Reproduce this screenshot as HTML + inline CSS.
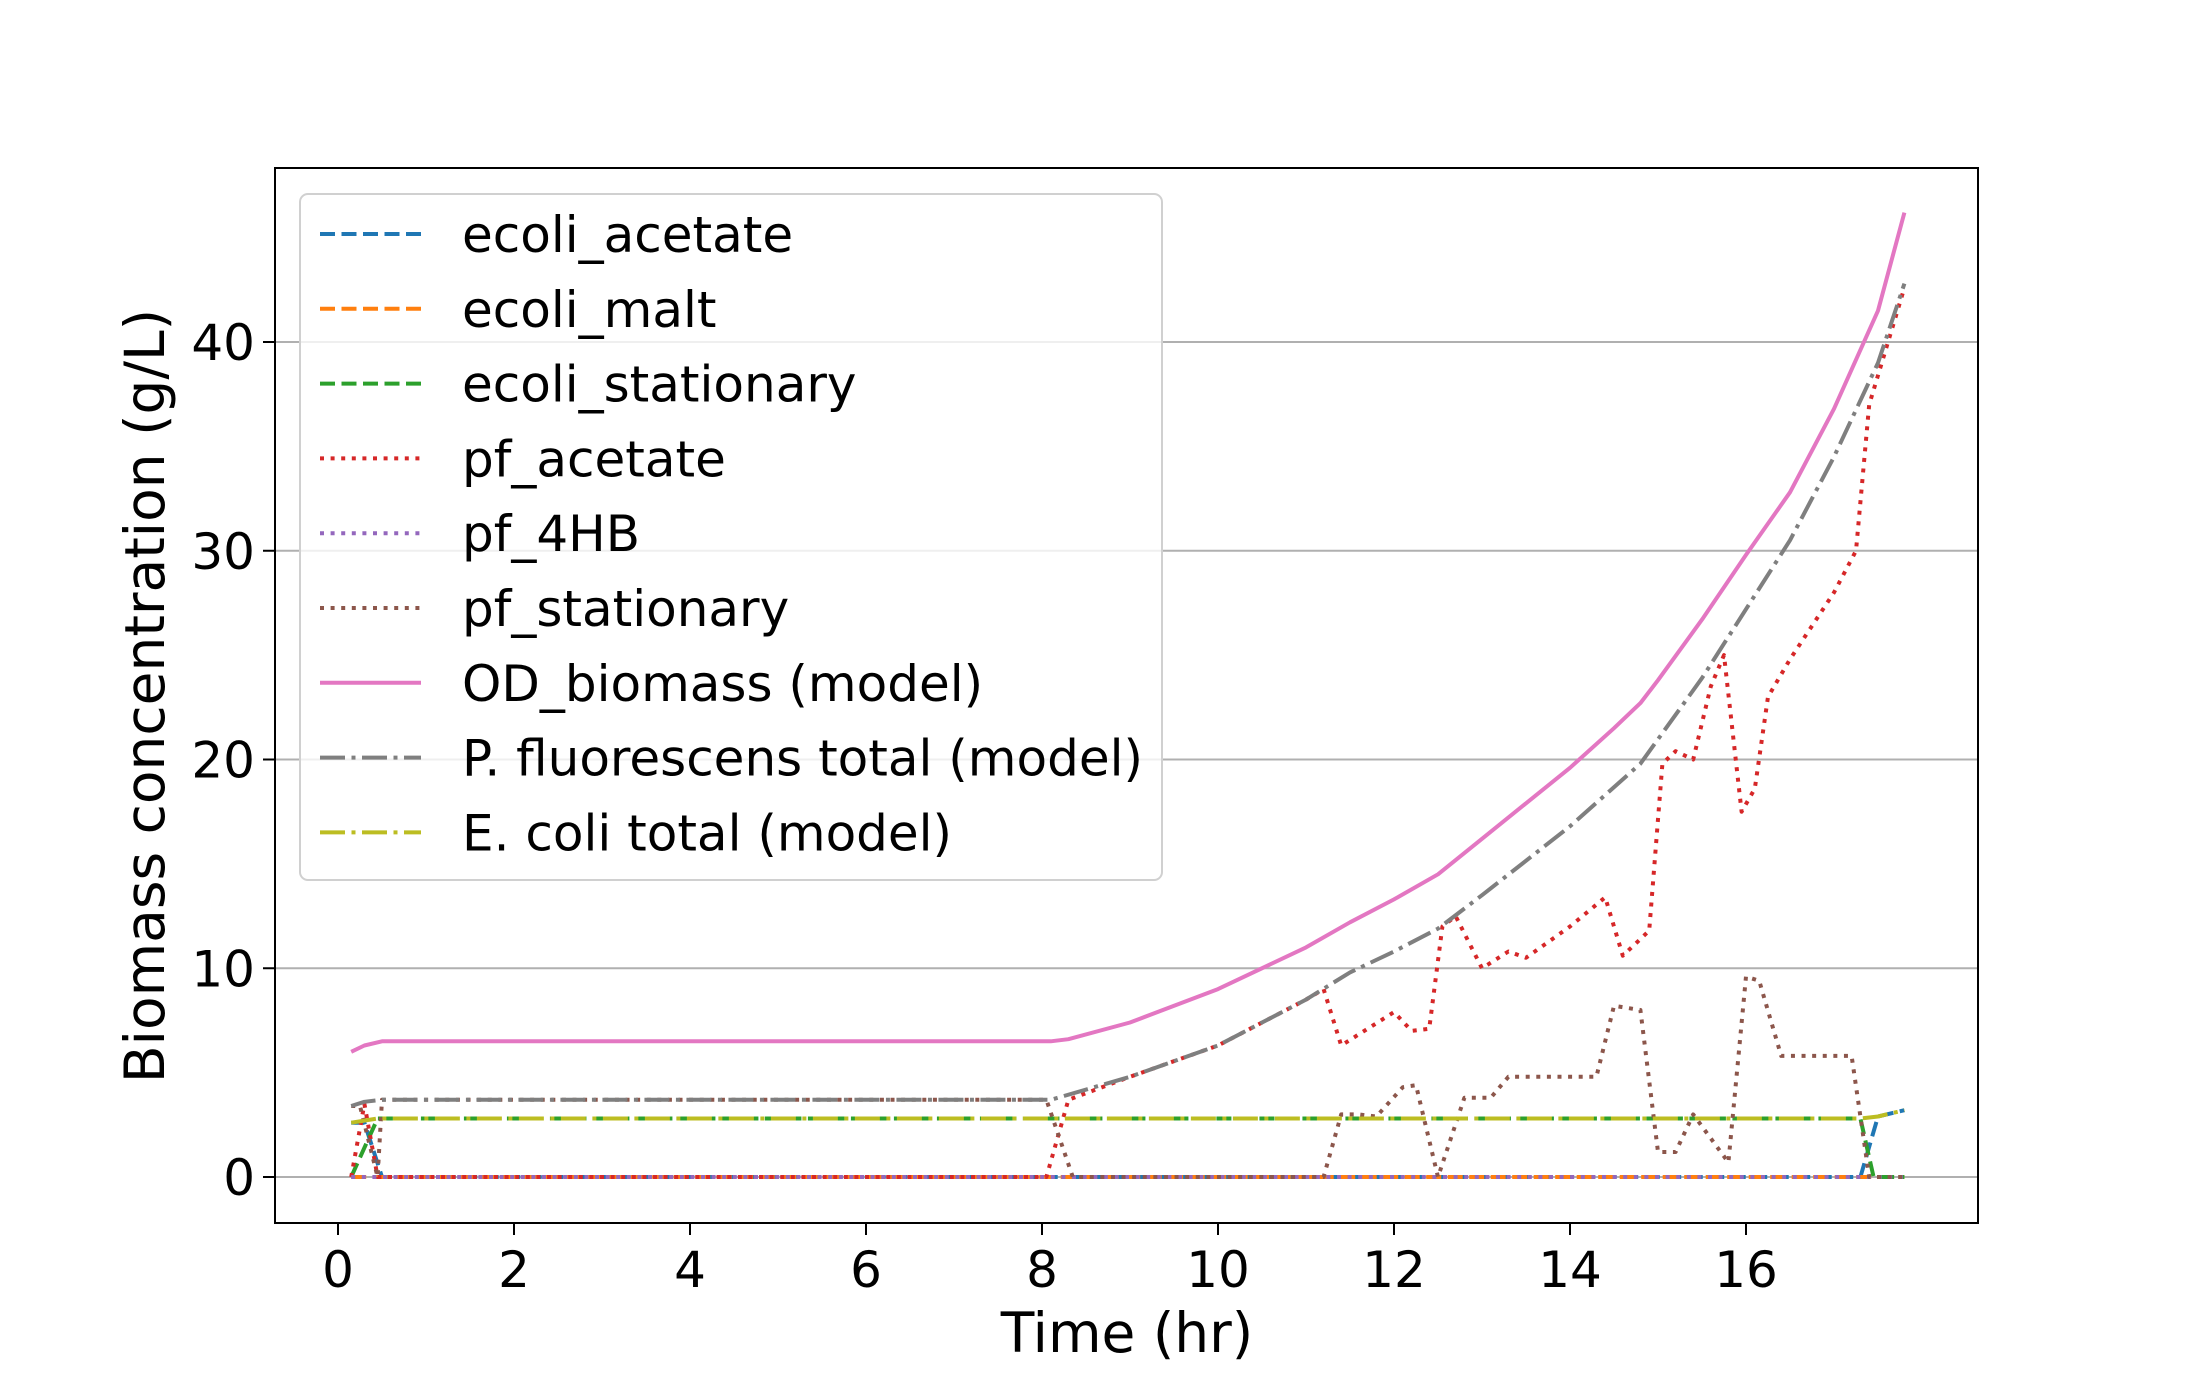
<!DOCTYPE html>
<html><head><meta charset="utf-8"><style>
html,body{margin:0;padding:0;background:#fff;}
svg{display:block;font-family:"DejaVu Sans","Liberation Sans",sans-serif;}
</style></head><body>
<svg id="chart" width="2200" height="1400" viewBox="0 0 2200 1400"></svg>
<script>
const tEcoliAcetate=[0.15,0.3,0.5,17.3,17.5,17.8];
const vEcoliAcetate=[2.6,2.6,0,0,2.9,3.2];
const tEcoliMalt=[0.15,17.8];
const vEcoliMalt=[0,0];
const tEcoliStat=[0.15,0.45,17.3,17.45,17.8];
const vEcoliStat=[0,2.8,2.8,0,0];
const tPfAcetate=[0.15,0.3,0.45,8.05,8.3,9,10,11,11.2,11.4,11.7,12.0,12.2,12.4,12.55,12.7,13.0,13.3,13.5,14.0,14.4,14.6,14.9,15.05,15.2,15.4,15.6,15.75,15.95,16.1,16.25,16.5,17.0,17.25,17.4,17.8];
const vPfAcetate=[0,3.5,0,0,3.7,4.8,6.3,8.5,9.0,6.3,7.1,7.9,7.0,7.1,12.0,12.5,10.0,10.8,10.5,12.0,13.4,10.6,11.8,19.8,20.4,20.0,23.5,25.0,17.5,18.6,23.0,24.8,28.0,30.0,37.0,42.6];
const tPf4HB=[0.15,17.8];
const vPf4HB=[0,0];
const tPfStat=[0.15,0.25,0.45,0.5,8.05,8.35,11.2,11.4,11.6,11.8,12.1,12.25,12.5,12.8,13.1,13.3,14.3,14.5,14.8,15.0,15.2,15.4,15.8,16.0,16.15,16.4,17.2,17.4,17.8];
const vPfStat=[3.4,3.4,0,3.7,3.7,0,0,3.0,3.0,2.9,4.3,4.4,0,3.8,3.8,4.8,4.8,8.2,8.0,1.2,1.2,3.0,0.7,9.6,9.4,5.8,5.8,0,0];
const tOD=[0.15,0.3,0.5,8.1,8.3,9,10,11,11.5,12,12.5,13,14,14.5,14.8,15,15.5,16,16.5,17,17.5,17.8];
const vOD=[6.0,6.3,6.5,6.5,6.6,7.4,9.0,11.0,12.2,13.3,14.5,16.2,19.6,21.5,22.7,23.8,26.7,29.8,32.8,36.8,41.5,46.2];
const tPfTot=[0.15,0.3,0.5,8.1,9,10,11,11.5,12,12.5,13,14,14.8,15.5,16,16.5,17,17.5,17.8];
const vPfTot=[3.4,3.6,3.7,3.7,4.8,6.3,8.5,9.8,10.8,11.9,13.5,16.8,19.8,23.9,27.2,30.5,34.5,39.0,42.8];
const tEcTot=[0.15,0.45,17.3,17.5,17.8];
const vEcTot=[2.6,2.8,2.8,2.9,3.2];
const xTicks=[0,2,4,6,8,10,12,14,16];
const yTicks=[0,10,20,30,40];

const NS="http://www.w3.org/2000/svg";
const svg=document.getElementById('chart');
const L=275,R=1978,T=168,B=1223;
function xs(t){return 338+t*88;}
function ys(v){return 1177-v*20.875;}
function mk(tag,attrs,parent){const e=document.createElementNS(NS,tag);for(const k in attrs)e.setAttribute(k,attrs[k]);(parent||svg).appendChild(e);return e;}

yTicks.forEach(v=>{
  const g=mk('line',{x1:L,x2:R,y1:ys(v),y2:ys(v),stroke:'#b0b0b0','stroke-width':2});
  
  
});

const series=[
 {n:'ecoli-acetate',t:tEcoliAcetate,v:vEcoliAcetate,c:'#1f77b4',d:'15,6.5'},
 {n:'ecoli-malt',t:tEcoliMalt,v:vEcoliMalt,c:'#ff7f0e',d:'15,6.5'},
 {n:'ecoli-stationary',t:tEcoliStat,v:vEcoliStat,c:'#2ca02c',d:'15,6.5'},
 {n:'pf-acetate',t:tPfAcetate,v:vPfAcetate,c:'#d62728',d:'4,6.6'},
 {n:'pf-4hb',t:tPf4HB,v:vPf4HB,c:'#9467bd',d:'4,6.6'},
 {n:'pf-stationary',t:tPfStat,v:vPfStat,c:'#8c564b',d:'4,6.6'},
 {n:'od-biomass',t:tOD,v:vOD,c:'#e377c2',d:''},
 {n:'pf-total',t:tPfTot,v:vPfTot,c:'#7f7f7f',d:'25,6.5,4,6.5'},
 {n:'ecoli-total',t:tEcTot,v:vEcTot,c:'#bcbd22',d:'25,6.5,4,6.5'}
];
series.forEach(s=>{
  const pts=s.t.map((t,i)=>xs(t).toFixed(1)+','+ys(s.v[i]).toFixed(1)).join(' ');
  const a={points:pts,fill:'none',stroke:s.c,'stroke-width':4,'stroke-linejoin':'round'};
  if(s.d)a['stroke-dasharray']=s.d;
  const p=mk('polyline',a);
  
  
});

const fr=mk('rect',{x:L,y:T,width:R-L,height:B-T,fill:'none',stroke:'#000','stroke-width':2});



xTicks.forEach(t=>{
  mk('line',{x1:xs(t),x2:xs(t),y1:B,y2:B+12,stroke:'#000','stroke-width':2});
  const tx=mk('text',{x:xs(t),y:B+64,'text-anchor':'middle','font-size':50,fill:'#000'});
  tx.textContent=t;
  
  
});
yTicks.forEach(v=>{
  mk('line',{x1:L-12,x2:L,y1:ys(v),y2:ys(v),stroke:'#000','stroke-width':2});
  const tx=mk('text',{x:L-20,y:ys(v)+18,'text-anchor':'end','font-size':50,fill:'#000'});
  tx.textContent=v;
  
  
});
const xl=mk('text',{x:1127,y:1352,'text-anchor':'middle','font-size':55,fill:'#000'});
xl.textContent='Time (hr)';


const yl=mk('text',{x:0,y:0,'text-anchor':'middle','font-size':55,fill:'#000',transform:'translate(164,696) rotate(-90)'});
yl.textContent='Biomass concentration (g/L)';



const lg=mk('g',{});


mk('rect',{x:300,y:194,width:862,height:686,rx:8,fill:'#fff','fill-opacity':0.8,stroke:'#d0d0d0','stroke-width':2},lg);
const labels=['ecoli_acetate','ecoli_malt','ecoli_stationary','pf_acetate','pf_4HB','pf_stationary','OD_biomass (model)','P. fluorescens total (model)','E. coli total (model)'];
labels.forEach((lab,i)=>{
  const y=234+i*74.8;
  const s=series[i];
  const a={x1:320,x2:421,y1:y,y2:y,stroke:s.c,'stroke-width':4};
  if(s.d)a['stroke-dasharray']=s.d;
  mk('line',a,lg);
  const tx=mk('text',{x:462,y:y+18,'font-size':50,fill:'#000'},lg);
  tx.textContent=lab;
  
  
});
</script>
</body></html>
